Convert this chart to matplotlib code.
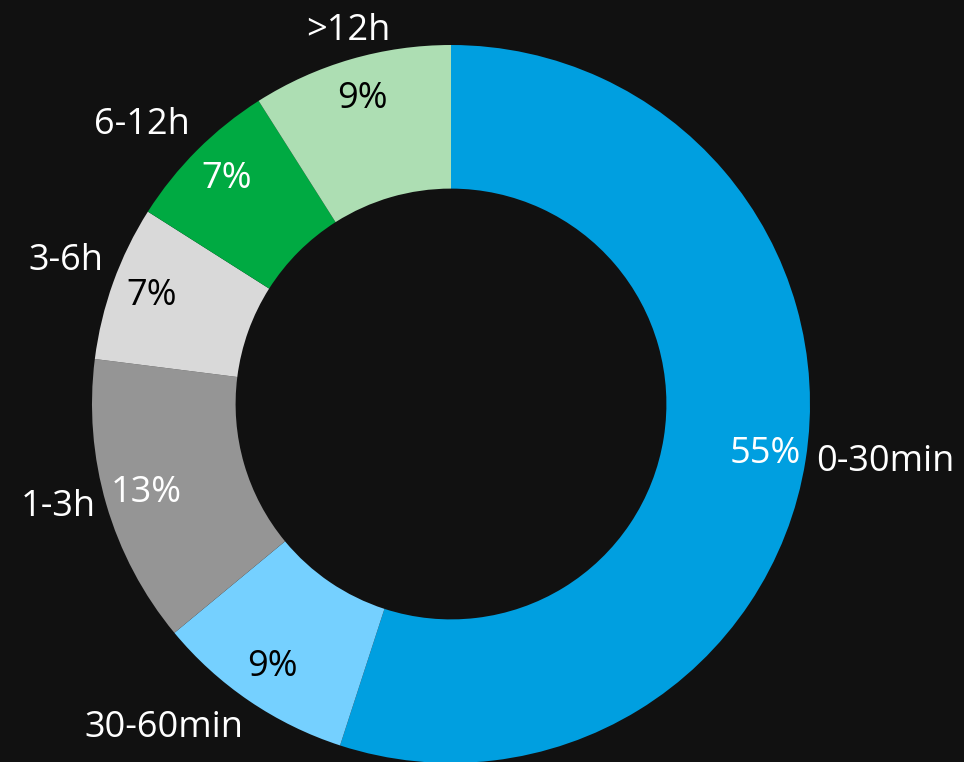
import numpy as np
import matplotlib.pyplot as plt

# Data
categories = ['0-30min', '30-60min', '1-3h', '3-6h', '6-12h', '>12h']
shares = [55, 9, 13, 7, 7, 9]
colors = ['#009FE0', '#75D0FF', '#959595', '#D9D9D9', '#00AA42', '#ADDEB3']
pct_colors = ['white', 'black', 'white', 'black', 'white', 'black']

plt.rcParams['font.family'] = ['Open Sans', 'DejaVu Sans']
bg = '#111111'

fig = plt.figure(figsize=(9.64, 7.62), dpi=100, facecolor=bg)
ax = fig.add_axes([0, 0, 1, 1])
ax.set_facecolor(bg)

wedges, _, autotexts = ax.pie(
    shares, colors=colors, startangle=90, counterclock=False,
    wedgeprops=dict(width=0.4, linewidth=0),
    autopct='%d%%', pctdistance=0.885,
    textprops=dict(fontsize=26),
)
for t, c in zip(autotexts, pct_colors):
    t.set_color(c)

# Category labels just outside the ring, aligned away from the centre
for w, name in zip(wedges, categories):
    ang = np.deg2rad((w.theta1 + w.theta2) / 2)
    cx, cy = np.cos(ang), np.sin(ang)
    ha = 'left' if cx > 0.3 else ('right' if cx < -0.3 else 'center')
    va = 'bottom' if cy > 0.3 else ('top' if cy < -0.3 else 'center')
    ax.text(1.03 * cx, 1.03 * cy, name, ha=ha, va=va,
            color='white', fontsize=26)

# Place the ring: centre at (451, 404) px, radius 359 px
r_px = 359
ax.set_xlim(-451 / r_px, (964 - 451) / r_px)
ax.set_ylim(-(762 - 404) / r_px, 404 / r_px)
ax.set_aspect('auto')
ax.axis('off')

fig.savefig('out.png', dpi=100, facecolor=bg)
